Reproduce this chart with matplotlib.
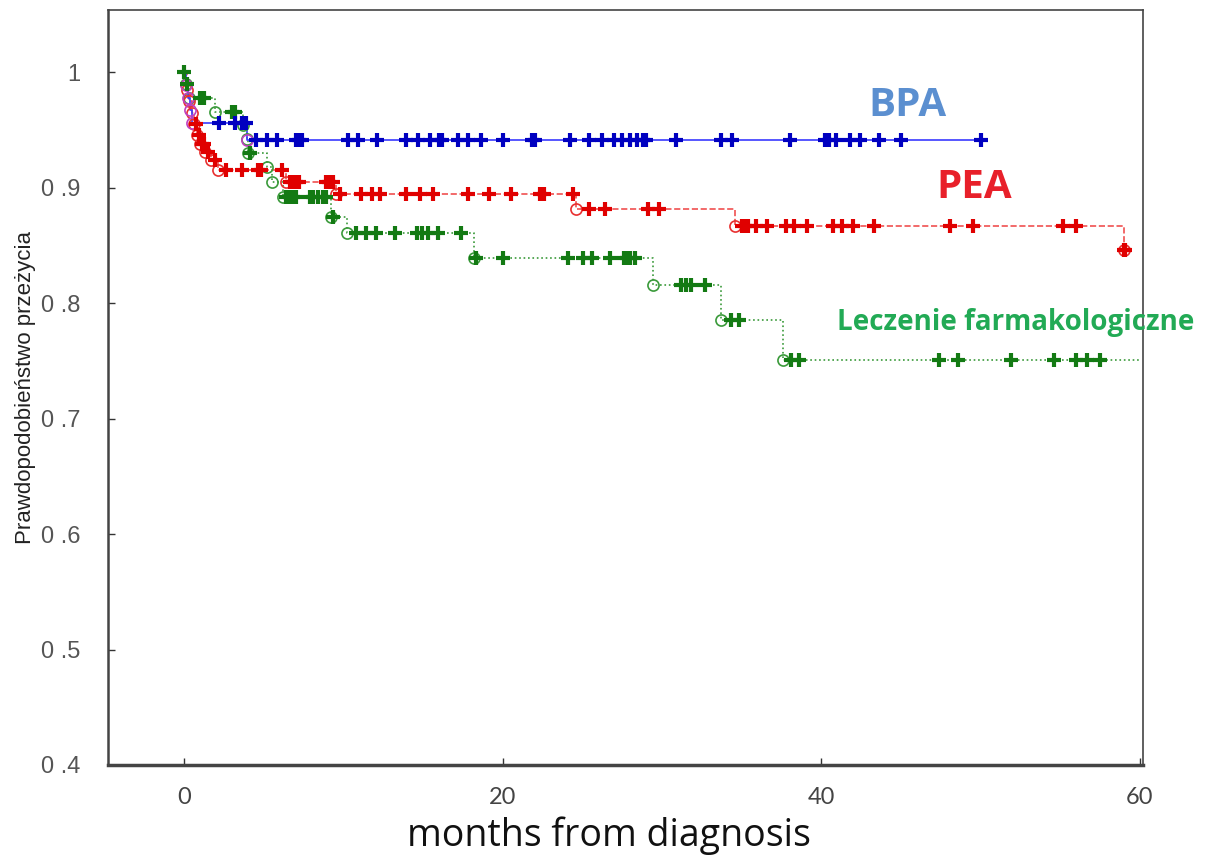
import matplotlib.pyplot as plt
import numpy as np

# BPA
bpa_event_t = [0.1, 0.2, 0.35, 0.5, 3.95]
bpa_surv = [0.989, 0.978, 0.967, 0.956, 0.941]
bpa_censor = [2.2, 3.2, 3.6, 3.85, 4.5, 5.2, 5.8, 7.0, 7.2, 7.4, 10.3, 10.9, 12.1, 13.9,
              14.7, 15.4, 16.0, 16.2, 17.2, 17.8, 18.6, 20.0, 21.8, 22.0, 24.2, 25.4,
              26.2, 27.0, 27.5, 28.0, 28.4, 28.8, 29.0, 30.9, 33.7, 34.4, 38.0, 40.2,
              40.5, 40.9, 41.8, 42.4, 43.6, 45.0, 50.0]
bpa_end = 50.0

# PEA
pea_event_t = [0.15, 0.3, 0.45, 0.6, 0.8, 1.0, 1.3, 1.7, 2.1, 6.4, 9.5, 24.6, 34.6, 59.0]
pea_surv = [0.985, 0.975, 0.965, 0.955, 0.946, 0.938, 0.931, 0.924, 0.915, 0.905, 0.895,
            0.882, 0.867, 0.846]
pea_censor = [0.7, 0.9, 1.1, 1.2, 1.5, 1.9, 2.6, 3.6, 4.6, 4.8, 6.1, 6.6, 6.8, 7.0, 7.2,
              8.9, 9.1, 9.3, 9.8, 11.1, 11.8, 12.3, 13.9, 14.8, 15.6, 17.8, 19.1, 20.5,
              22.3, 22.6, 24.4, 25.4, 26.4, 29.1, 29.8, 35.0, 35.2, 35.4, 35.9, 36.6,
              37.8, 38.3, 39.1, 40.7, 41.3, 42.0, 43.3, 48.1, 49.5, 55.2, 56.0, 59.0, 59.1]
pea_end = 59.2

# Leczenie farmakologiczne
gr_event_t = [0.1, 0.3, 1.9, 3.7, 3.9, 4.0, 5.2, 5.5, 6.2, 9.2, 10.2, 18.2, 29.4, 33.7, 37.6]
gr_surv = [0.99, 0.978, 0.966, 0.954, 0.942, 0.93, 0.918, 0.905, 0.892, 0.875, 0.861,
           0.839, 0.816, 0.785, 0.751]
gr_censor = [0.0, 0.15, 1.0, 1.2, 3.0, 3.2, 4.1, 6.4, 6.6, 6.8, 7.0, 7.9, 8.1, 8.4, 8.7,
             8.9, 9.3, 10.8, 11.4, 12.0, 13.2, 14.6, 14.9, 15.3, 15.9, 17.4, 18.3, 20.0,
             24.1, 25.0, 25.6, 26.7, 27.6, 27.8, 28.0, 28.3, 31.2, 31.5, 31.8, 32.7, 34.3,
             34.8, 38.1, 38.6, 47.4, 48.6, 51.9, 54.6, 56.0, 56.7, 57.5]
gr_end = 60.0

groups = [
    # events, surv, censor, end, line colour, marker colour, circle colour, linestyle
    (gr_event_t, gr_surv, gr_censor, gr_end, '#3a9a3a', '#137a13', '#3a9a3a', ':'),
    (pea_event_t, pea_surv, pea_censor, pea_end, '#f05050', '#e00000', '#e83030', '--'),
    (bpa_event_t, bpa_surv, bpa_censor, bpa_end, '#3a3aff', '#0000c0', '#c040c0', '-'),
]


def surv_at(t, ev, sv):
    s = 1.0
    for e, v in zip(ev, sv):
        if t >= e:
            s = v
    return s


fig = plt.figure(figsize=(12.08, 8.57), dpi=100)
ax = fig.add_axes([0.0894, 0.1074, 0.8568, 0.881])

for ev, sv, cen, end, lc, mc, cc, ls in groups:
    xs = [0.0] + list(ev) + [end]
    ys = [1.0] + list(sv) + [sv[-1]]
    ax.step(xs, ys, where='post', color=lc, linestyle=ls, linewidth=1.2, zorder=2)
    ax.plot(ev, sv, linestyle='none', marker='o', markersize=8, markerfacecolor='none',
            markeredgecolor=cc, markeredgewidth=1.2, zorder=3)
    cy = [surv_at(t, ev, sv) for t in cen]
    ax.plot(cen, cy, linestyle='none', marker='+', markersize=10, markeredgewidth=3.0,
            color=mc, zorder=4)

ax.set_xlim(-4.8, 60.2)
ax.set_ylim(0.4, 1.054)
ax.set_xticks([0, 20, 40, 60])
ax.set_xticklabels(['0', '20', '40', '60'], fontsize=17, family='Lato', color='#444444')
ax.set_yticks([0.4, 0.5, 0.6, 0.7, 0.8, 0.9, 1.0])
ax.set_yticklabels(['0 .4', '0 .5', '0 .6', '0 .7', '0 .8', '0 .9', '1'], fontsize=17,
                   family='Liberation Sans', color='#555555')
ax.tick_params(direction='in', length=5, width=1, color='#333333')
ax.tick_params(axis='x', pad=16)
ax.tick_params(axis='y', pad=20)
for sp in ax.spines.values():
    sp.set_color('#444444')
    sp.set_linewidth(1.2)
ax.spines['bottom'].set_linewidth(2.5)
ax.spines['left'].set_linewidth(1.8)

ax.set_xlabel('months from diagnosis', fontsize=27, family='Open Sans', color='#111111')
ax.xaxis.set_label_coords(0.484, -0.068)
ax.set_ylabel('Prawdopodobieństwo przeżycia', fontsize=16,
              family='Liberation Sans', color='#222222')
ax.yaxis.set_label_coords(-0.07, 0.5)

ax.text(45.4, 0.971, 'BPA', fontsize=29, fontweight='bold', family='Open Sans',
        color='#5b8fd0', ha='center', va='center')
ax.text(49.6, 0.9, 'PEA', fontsize=29, fontweight='bold', family='Open Sans',
        color='#e8202a', ha='center', va='center')
ax.text(52.2, 0.783, 'Leczenie farmakologiczne', fontsize=20, fontweight='bold',
        family='Open Sans', color='#22aa55', ha='center', va='center')

fig.savefig('out.png', dpi=100)
